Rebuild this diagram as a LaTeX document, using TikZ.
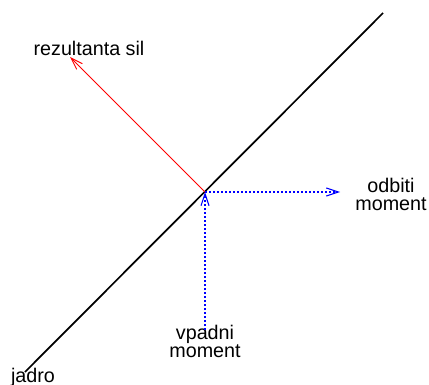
\documentclass[tikz,border=0pt]{standalone}
\usepackage{fontspec}
\setmainfont{Liberation Sans}
\usetikzlibrary{arrows.meta}

\begin{document}
\begin{tikzpicture}[x=0.75pt, y=-0.75pt,
    lbl/.style={inner sep=0pt, align=center, font=\fontsize{14.8}{13.8}\selectfont},
    tip/.style={-{Straight Barb[length=9pt, width=6pt]}},
    moment/.style={tip, blue, line width=0.8pt, dash pattern=on 1.5pt off 1.5pt}]

    \useasboundingbox (0,0) rectangle (429,385);

    \coordinate (O) at (205,192);
    \coordinate (J) at (25,372);
    \coordinate (T) at (383,13);
    \coordinate (R) at (70,57);
    \coordinate (V) at (205,330);
    \coordinate (B) at (340,192);

    \node[lbl, anchor=base] (rez) at (89,56) {rezultanta sil};
    \node[lbl, anchor=north] (odb) at (391,178) {odbiti\\moment};
    \node[lbl, anchor=north] (vpa) at (205,325) {vpadni\\moment};
    \node[lbl, anchor=base] (jad) at (33,382) {jadro};

    \draw[line width=1.3pt] (J) -- (T);
    \draw[tip, red, line width=0.7pt] (O) -- (R);
    \draw[moment] (V) -- (O);
    \draw[moment] (O) -- (B);
\end{tikzpicture}
\end{document}
